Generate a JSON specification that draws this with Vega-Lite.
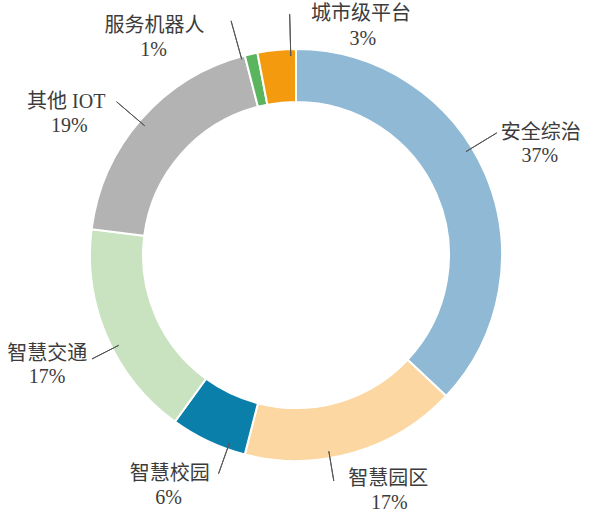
{
  "$schema": "https://vega.github.io/schema/vega-lite/v6.json",
  "width": 592,
  "height": 510,
  "autosize": {"type": "none"},
  "padding": {"left": 0, "top": 0, "right": 8, "bottom": 13},
  "background": "white",
  "view": {"stroke": null},
  "data": {
    "values": [
      {"category": "安全综治", "share": 0.37},
      {"category": "智慧园区", "share": 0.17},
      {"category": "智慧校园", "share": 0.06},
      {"category": "智慧交通", "share": 0.17},
      {"category": "其他 IOT", "share": 0.19},
      {"category": "服务机器人", "share": 0.01},
      {"category": "城市级平台", "share": 0.03}
    ]
  },
  "transform": [{"window": [{"op": "row_number", "as": "rank"}]}],
  "encoding": {
    "theta": {"field": "share", "type": "quantitative", "stack": true},
    "order": {"field": "rank", "type": "quantitative"}
  },
  "layer": [
    {
      "mark": {"type": "arc", "outerRadius": 206, "innerRadius": 153, "stroke": "white", "strokeWidth": 2},
      "encoding": {
        "color": {
          "field": "category",
          "type": "nominal",
          "scale": {
            "domain": ["安全综治", "智慧园区", "智慧校园", "智慧交通", "其他 IOT", "服务机器人", "城市级平台"],
            "range": ["#8fb9d4", "#fcd7a1", "#0a7faa", "#c9e2c0", "#b3b3b3", "#5ab55e", "#f39a0e"]
          },
          "legend": null
        }
      }
    },
    {
      "mark": {
        "type": "arc",
        "padAngle": 3,
        "fillOpacity": 0,
        "stroke": "#555555",
        "strokeWidth": 1,
        "innerRadius": {"expr": "[199,199,199,199,199,203,199][datum.rank-1]"},
        "outerRadius": {"expr": "[235,229,232,229,236,243,241][datum.rank-1]"},
        "thetaOffset": {"expr": "[-0.138,0.117,-0.0995,-0.0628,-0.0157,-0.0506,0.068][datum.rank-1]"},
        "theta2Offset": {"expr": "[-0.138,0.117,-0.0995,-0.0628,-0.0157,-0.0506,0.068][datum.rank-1]"}
      }
    },
    {
      "mark": {
        "type": "text",
        "radius": 245,
        "font": "Liberation Serif, Noto Sans CJK SC",
        "fontSize": 20,
        "color": "#3c3c3c",
        "baseline": "middle",
        "dx": {"expr": "[20,24,-22,-24,-46,-88,88][datum.rank-1]"},
        "dy": {"expr": "[-25,-11,-3,2,9,10,3][datum.rank-1]"}
      },
      "encoding": {"text": {"field": "category"}}
    },
    {
      "mark": {
        "type": "text",
        "radius": 245,
        "font": "Liberation Serif",
        "fontSize": 20,
        "color": "#3c3c3c",
        "baseline": "middle",
        "dx": {"expr": "[19,25,-23,-24,-43,-89,90][datum.rank-1]"},
        "dy": {"expr": "[-2,13,21,25,33,34,28][datum.rank-1]"}
      },
      "encoding": {"text": {"field": "share", "format": ".0%"}}
    }
  ]
}
